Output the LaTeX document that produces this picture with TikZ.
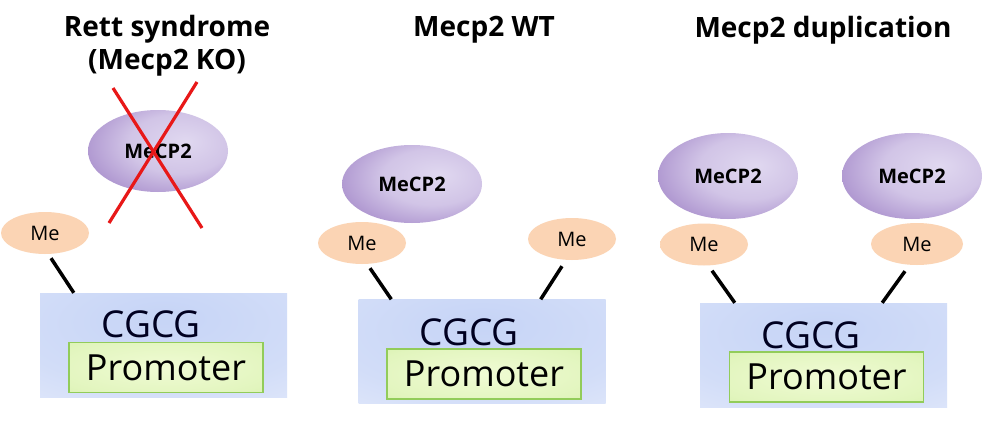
\documentclass[tikz,border=0pt]{standalone}
\usepackage{fontspec}
\setmainfont{Open Sans}
\usetikzlibrary{shapes.geometric}
\definecolor{mecpin}{RGB}{224,216,240}
\definecolor{mecpout}{RGB}{150,118,192}
\definecolor{mein}{RGB}{251,212,180}
\definecolor{meout}{RGB}{254,238,226}
\definecolor{boxin}{RGB}{198,212,246}
\definecolor{boxout}{RGB}{238,242,253}
\definecolor{promin}{RGB}{240,251,212}
\definecolor{promout}{RGB}{204,236,156}
\definecolor{promline}{RGB}{146,204,90}
\definecolor{cgtext}{RGB}{0,0,32}
\definecolor{xred}{RGB}{232,24,24}
\pgfdeclareradialshading{mecpshade}{\pgfpoint{10bp}{6bp}}{color(0bp)=(mecpin); color(18bp)=(mecpin!80!mecpout); color(42bp)=(mecpout); color(72bp)=(mecpout)}
\pgfdeclareradialshading{meshade}{\pgfpoint{0bp}{0bp}}{color(0bp)=(mein); color(30bp)=(mein); color(50bp)=(meout); color(72bp)=(meout)}
\pgfdeclareradialshading{boxshade}{\pgfpoint{0bp}{14bp}}{color(0bp)=(boxin); color(30bp)=(boxin!70!boxout); color(62bp)=(boxout); color(85bp)=(boxout)}
\pgfdeclareradialshading{promshade}{\pgfpoint{0bp}{0bp}}{color(0bp)=(promin); color(30bp)=(promin!60!promout); color(55bp)=(promout); color(75bp)=(promout)}
\tikzset{
  mecp/.style={ellipse, minimum width=140pt, minimum height=82pt, inner sep=0pt, shading=mecpshade, font=\fontsize{20}{24}\selectfont\bfseries},
  me/.style={ellipse, minimum width=88pt, minimum height=42pt, inner sep=0pt, shading=meshade, font=\fontsize{20}{22}\selectfont},
  cgbox/.style={rectangle, minimum width=247pt, minimum height=104pt, inner sep=0pt, shading=boxshade},
  prom/.style={rectangle, draw=promline, line width=1.2pt, minimum width=194pt, minimum height=50pt, inner sep=0pt, shading=promshade, font=\fontsize{36}{40}\selectfont},
  cglabel/.style={font=\fontsize{37}{40}\selectfont, inner sep=0pt, text=cgtext},
  titlelabel/.style={font=\fontsize{28}{33}\selectfont\bfseries, align=center, inner sep=0pt},
  link/.style={line width=3.5pt, black},
  cross/.style={line width=3.2pt, xred}
}
\begin{document}
\begin{tikzpicture}[x=1pt, y=-1pt]
\useasboundingbox (0,0) rectangle (983,423);
\fill[white] (0,0) rectangle (983,423);

% titles
\node[titlelabel] (t1) at (167,46) {Rett syndrome\\(Mecp2 KO)};
\node[titlelabel] (t2) at (484,30) {Mecp2 WT};
\node[titlelabel] (t3) at (823,30) {Mecp2 duplication};

% panel 1
\node[cgbox] (box1) at (163.5,345) {};
\node[cglabel] (cg1) at (151,324) {CGCG};
\node[prom] (prom1) at (166,367.5) {Promoter};
\node[me] (me1) at (45,233) {Me};
\node[mecp] (mecp1) at (158,151) {MeCP2};
\coordinate (xa1) at (113,88);
\coordinate (xa2) at (202,228);
\coordinate (xb1) at (197,82);
\coordinate (xb2) at (109,223);
\draw[cross] (xa1) -- (xa2);
\draw[cross] (xb1) -- (xb2);
\draw[link] ([xshift=6pt,yshift=-4pt]me1.south) -- ([xshift=34pt]box1.north west);

% panel 2
\node[cgbox] (box2) at (482,351.5) {};
\node[cglabel] (cg2) at (469,332) {CGCG};
\node[prom] (prom2) at (484,374) {Promoter};
\node[me] (me2a) at (362,243) {Me};
\node[me] (me2b) at (572,239) {Me};
\node[mecp, minimum height=78pt] (mecp2) at (412,184) {MeCP2};
\draw[link] ([xshift=8pt,yshift=-4pt]me2a.south) -- ([xshift=33pt]box2.north west);
\draw[link] ([xshift=-10pt,yshift=-6pt]me2b.south) -- ([xshift=-65pt]box2.north east);

% panel 3
\node[cgbox] (box3) at (823.5,355) {};
\node[cglabel] (cg3) at (811,335) {CGCG};
\node[prom] (prom3) at (826.5,377) {Promoter};
\node[me] (me3a) at (704,244.5) {Me};
\node[me, minimum width=92pt] (me3b) at (917,244) {Me};
\node[mecp, minimum height=86pt] (mecp3a) at (728,176) {MeCP2};
\node[mecp, minimum height=86pt] (mecp3b) at (912,176) {MeCP2};
\draw[link] ([xshift=8pt,yshift=-5pt]me3a.south) -- ([xshift=35pt]box3.north west);
\draw[link] ([xshift=-12pt,yshift=-6pt]me3b.south) -- ([xshift=-65pt]box3.north east);
\end{tikzpicture}
\end{document}
